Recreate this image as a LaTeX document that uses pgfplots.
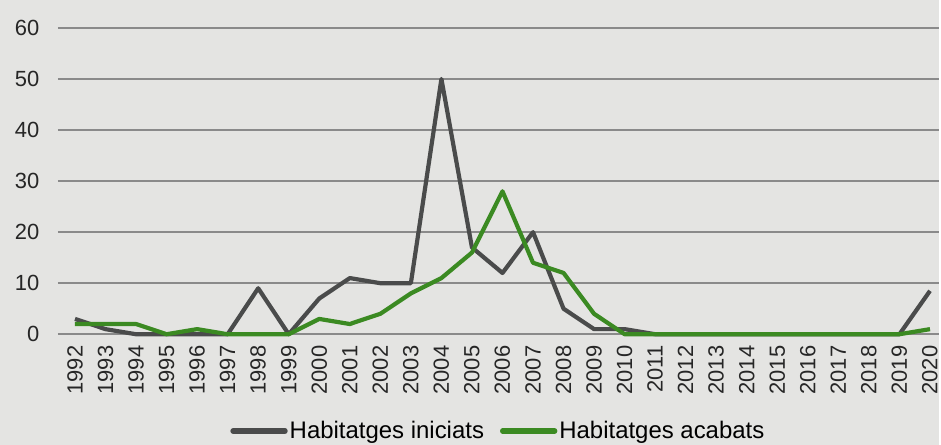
\documentclass[border=0pt]{standalone}
\usepackage{fontspec}
\setmainfont{Liberation Sans}
\usepackage{pgfplots}
\pgfplotsset{compat=1.18}
\definecolor{bg}{HTML}{E4E4E2}
\definecolor{gridc}{HTML}{8A8A8A}
\definecolor{greyline}{HTML}{4A4B4B}
\definecolor{greenline}{HTML}{3B8A22}
\begin{document}
\begin{tikzpicture}
\fill[bg] (0,0) rectangle (941pt,-446pt);
\begin{axis}[
  at={(58pt,-335pt)}, anchor=south west,
  scale only axis, width=883pt, height=307pt,
  xmin=1991.44, xmax=2020.29, ymin=0, ymax=60,
  clip=false,
  axis line style={draw=none},
  tick style={draw=none},
  ymajorgrids, major grid style={gridc, line width=1.6pt},
  ytick={0,10,20,30,40,50,60},
  xtick={1992,...,2020},
  xticklabel shift=8pt,
  /pgf/number format/assume math mode=true,
  /pgf/number format/1000 sep={},
  yticklabel style={font=\fontsize{22}{24}\selectfont, anchor=east, xshift=-15pt, text=black!85},
  xticklabel style={font=\fontsize{22}{24}\selectfont, rotate=90, anchor=east, text=black!85},
  legend style={at={(0.5,-0.316)}, anchor=center, draw=none, fill=none,
    font=\fontsize{24}{26}\selectfont, legend columns=2,
    /tikz/every even column/.append style={column sep=14pt}},
  legend image code/.code={\draw[#1, line width=5.5pt, line cap=round] (0pt,0pt) -- (52pt,0pt);},
]
\addplot[greyline, line width=4.2pt, line join=round] coordinates {
(1992,3) (1993,1) (1994,0) (1995,0) (1996,0) (1997,0) (1998,9) (1999,0) (2000,7) (2001,11) (2002,10) (2003,10) (2004,50) (2005,17) (2006,12) (2007,20) (2008,5) (2009,1) (2010,1) (2011,0) (2012,0) (2013,0) (2014,0) (2015,0) (2016,0) (2017,0) (2018,0) (2019,0) (2020,8.5)};
\addlegendentry{Habitatges iniciats}
\addplot[greenline, line width=4.2pt, line join=round] coordinates {
(1992,2) (1993,2) (1994,2) (1995,0) (1996,1) (1997,0) (1998,0) (1999,0) (2000,3) (2001,2) (2002,4) (2003,8) (2004,11) (2005,16) (2006,28) (2007,14) (2008,12) (2009,4) (2010,0) (2011,0) (2012,0) (2013,0) (2014,0) (2015,0) (2016,0) (2017,0) (2018,0) (2019,0) (2020,1)};
\addlegendentry{Habitatges acabats}
\end{axis}
\end{tikzpicture}
\end{document}
